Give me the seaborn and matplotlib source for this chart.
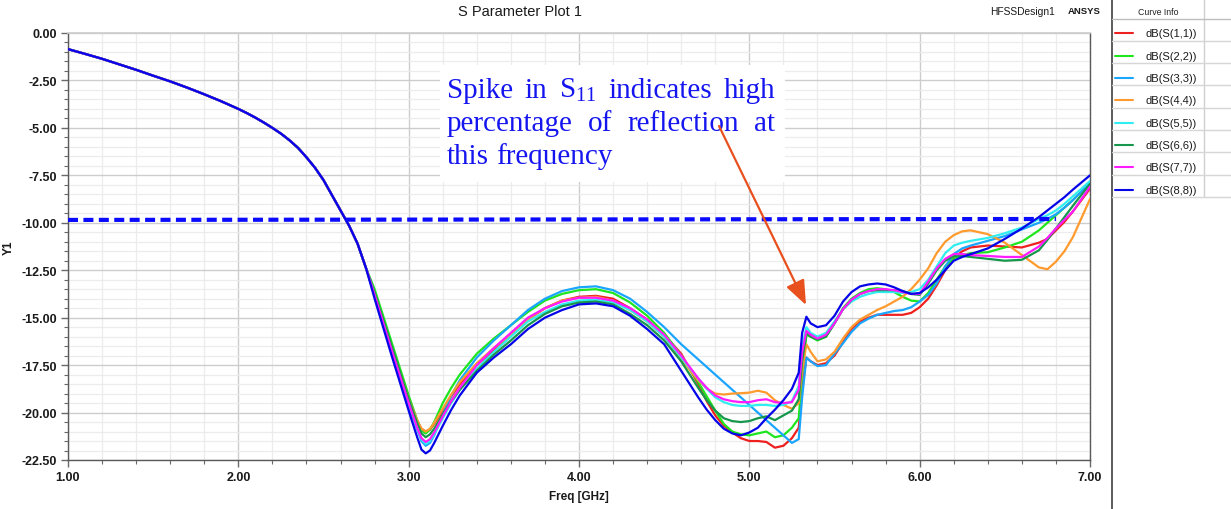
import matplotlib
matplotlib.use("Agg")
import matplotlib.pyplot as plt
from matplotlib.lines import Line2D
from matplotlib.patches import Rectangle, FancyArrowPatch
from matplotlib.ticker import MultipleLocator
import pandas as pd
import seaborn as sns

W, H = 1231, 510

# ---------------- data ----------------
curve_names = ["dB(S(1,1))", "dB(S(2,2))", "dB(S(3,3))", "dB(S(4,4))",
               "dB(S(5,5))", "dB(S(6,6))", "dB(S(7,7))", "dB(S(8,8))"]
curve_colors = ["#ee2020", "#1ee61e", "#1aa5ff", "#ff9a2e",
                "#30eef0", "#17974c", "#ff1aff", "#0505e8"]

# shared start of all curves (they overlap up to ~2.75 GHz)
head_freq = [1.0, 1.1, 1.2, 1.3, 1.4, 1.5, 1.6, 1.7, 1.8, 1.9, 2.0, 2.05, 2.1, 2.15,
             2.2, 2.25, 2.3, 2.35, 2.4, 2.45, 2.5, 2.55, 2.6, 2.65, 2.7, 2.75]
head_db = [-0.85, -1.1, -1.36, -1.65, -1.94, -2.25, -2.55, -2.88, -3.23, -3.6, -4.0, -4.22, -4.46, -4.72,
           -5.0, -5.3, -5.65, -6.05, -6.55, -7.1, -7.75, -8.55, -9.35, -10.15, -11.1, -12.4]

tail_freq = [2.8, 2.9, 3.0, 3.05, 3.075, 3.1, 3.125, 3.15, 3.2, 3.25, 3.3,
             3.4, 3.5, 3.6, 3.7, 3.8, 3.9, 4.0, 4.1, 4.2, 4.3, 4.4, 4.5, 4.6, 4.7,
             4.75, 4.8, 4.85, 4.9, 4.95, 5.0, 5.05, 5.1, 5.15, 5.2, 5.25, 5.29,
             5.31, 5.335, 5.36, 5.4, 5.45, 5.5, 5.55, 5.6, 5.65, 5.7, 5.75, 5.8, 5.85, 5.9, 5.95, 6.0,
             6.05, 6.1, 6.15, 6.2, 6.25, 6.3, 6.4, 6.5, 6.6, 6.7, 6.75, 6.8, 6.85, 6.9, 7.0]

s11 = [-13.8, -16.6, -19.3, -20.45, -20.85, -21.0, -20.9, -20.6, -19.9, -19.15, -18.5,
       -17.5, -16.7, -15.9, -15.1, -14.5, -14.1, -13.9, -13.85, -14.0, -14.5, -15.1, -15.9, -16.9, -18.5,
       -19.4, -20.15, -20.7, -21.05, -21.35, -21.5, -21.5, -21.55, -21.85, -21.75, -21.35, -20.8,
       -18.8, -17.1, -17.3, -17.5, -17.4, -17.0, -16.3, -15.6, -15.2, -15.0, -14.85, -14.85, -14.85, -14.85, -14.75, -14.45,
       -14.0, -13.3, -12.5, -11.85, -11.5, -11.3, -11.2, -11.25, -11.3, -11.05, -10.85, -10.4, -9.95, -9.4, -8.2]
s22 = [-13.5, -16.3, -19.1, -20.4, -20.95, -21.1, -20.9, -20.5, -19.5, -18.7, -18.0,
       -16.9, -16.1, -15.4, -14.7, -14.1, -13.75, -13.55, -13.5, -13.7, -14.2, -14.9, -15.8, -17.0, -18.4,
       -19.15, -19.9, -20.6, -21.0, -21.15, -21.2, -21.1, -21.0, -21.3, -21.2, -20.8, -20.3,
       -18.0, -15.9, -16.0, -16.2, -16.0, -15.3, -14.5, -14.0, -13.7, -13.5, -13.45, -13.5, -13.65, -13.9, -14.1, -14.15,
       -13.7, -13.0, -12.3, -11.9, -11.7, -11.6, -11.55, -11.3, -11.0, -10.4, -10.0, -9.6, -9.2, -8.8, -7.9]
s33 = [-13.8, -16.7, -19.6, -20.9, -21.5, -21.75, -21.6, -21.2, -20.1, -19.1, -18.3,
       -17.1, -16.2, -15.4, -14.6, -14.0, -13.6, -13.4, -13.35, -13.55, -14.0, -14.7, -15.5, -16.4, -17.2,
       -17.6, -18.0, -18.4, -18.8, -19.2, -19.6, -20.0, -20.4, -20.8, -21.2, -21.6, -21.4,
       -19.2, -17.1, -17.3, -17.55, -17.5, -16.9, -16.35, -15.75, -15.3, -15.05, -14.85, -14.75, -14.65, -14.6, -14.45, -14.15,
       -13.8, -13.2, -12.3, -11.65, -11.35, -11.2, -10.95, -10.7, -10.35, -10.0, -9.8, -9.55, -9.2, -8.8, -7.9]
s44 = [-13.8, -16.6, -19.3, -20.4, -20.85, -21.0, -20.85, -20.55, -19.8, -19.05, -18.4,
       -17.4, -16.6, -15.9, -15.1, -14.5, -14.1, -13.95, -13.9, -14.1, -14.6, -15.2, -16.0, -17.2, -18.3,
       -18.75, -19.0, -19.05, -19.0, -18.98, -18.95, -18.85, -18.95, -19.35, -19.6, -19.8, -19.5,
       -17.8, -16.4, -16.8, -17.3, -17.2, -16.8, -16.1, -15.5, -15.1, -14.85, -14.6, -14.4, -14.15, -13.9, -13.5, -13.0,
       -12.4, -11.6, -11.0, -10.65, -10.45, -10.4, -10.6, -11.05, -11.7, -12.35, -12.45, -12.05, -11.5, -10.75, -8.75]
s55 = [-13.8, -16.7, -19.5, -20.8, -21.4, -21.65, -21.5, -21.15, -20.3, -19.5, -18.8,
       -17.7, -16.8, -16.0, -15.2, -14.7, -14.3, -14.1, -14.05, -14.2, -14.6, -15.2, -16.0, -17.1, -18.2,
       -18.75, -19.2, -19.45, -19.6, -19.65, -19.65, -19.6, -19.6, -19.65, -19.6, -19.4, -18.6,
       -16.5, -15.5, -15.8, -16.0, -15.8, -15.2, -14.55, -14.15, -13.9, -13.75, -13.65, -13.65, -13.65, -13.7, -13.65, -13.5,
       -13.0, -12.3, -11.6, -11.2, -11.05, -10.95, -10.8, -10.55, -10.25, -9.8, -9.6, -9.35, -9.0, -8.6, -7.8]
s66 = [-13.7, -16.5, -19.3, -20.55, -21.1, -21.3, -21.15, -20.85, -20.1, -19.4, -18.8,
       -17.8, -16.95, -16.2, -15.4, -14.8, -14.4, -14.2, -14.15, -14.3, -14.8, -15.4, -16.2, -17.3, -18.7,
       -19.35, -19.9, -20.3, -20.45, -20.5, -20.45, -20.3, -20.2, -20.4, -20.15, -19.9, -19.3,
       -17.3, -15.8, -16.0, -16.15, -16.0, -15.3, -14.55, -14.05, -13.75, -13.6, -13.55, -13.55, -13.55, -13.6, -13.75, -13.8,
       -13.2, -12.5, -12.0, -11.75, -11.75, -11.8, -11.9, -12.0, -11.95, -11.45, -10.9, -10.3, -9.7, -9.1, -7.95]
s77 = [-13.8, -16.7, -19.5, -20.8, -21.35, -21.55, -21.4, -21.05, -20.2, -19.4, -18.7,
       -17.5, -16.6, -15.8, -15.0, -14.5, -14.15, -13.95, -13.95, -14.1, -14.5, -15.1, -15.9, -17.0, -18.2,
       -18.7, -19.1, -19.3, -19.4, -19.45, -19.45, -19.35, -19.3, -19.45, -19.5, -19.45, -18.8,
       -16.8, -15.7, -15.9, -16.1, -15.9, -15.3, -14.55, -14.05, -13.75, -13.6, -13.5, -13.5, -13.55, -13.65, -13.75, -13.75,
       -13.1, -12.4, -11.9, -11.65, -11.65, -11.7, -11.75, -11.8, -11.8, -11.25, -10.8, -10.3, -9.85, -9.4, -8.1]
s88 = [-14.0, -17.0, -19.9, -21.3, -21.95, -22.15, -22.0, -21.6, -20.7, -19.85, -19.1,
       -17.9, -17.1, -16.4, -15.6, -15.0, -14.6, -14.3, -14.25, -14.4, -14.9, -15.6, -16.4, -17.8, -19.2,
       -19.85, -20.4, -20.85, -21.1, -21.2, -21.05, -20.8, -20.3, -19.85, -19.35, -18.75, -17.9,
       -15.8, -14.95, -15.3, -15.5, -15.4, -14.9, -14.15, -13.65, -13.35, -13.25, -13.2, -13.25, -13.4, -13.6, -13.75, -13.7,
       -13.4, -13.0, -12.5, -12.0, -11.8, -11.65, -11.35, -10.85, -10.3, -9.7, -9.35, -9.0, -8.65, -8.25, -7.5]
tails = [s11, s22, s33, s44, s55, s66, s77, s88]

# -10 dB reference line
dash_freq = [1.0, 6.8]
dash_db = [-9.85, -9.8]

x_ticks = [1.0, 2.0, 3.0, 4.0, 5.0, 6.0, 7.0]
y_ticks = [0.0, -2.5, -5.0, -7.5, -10.0, -12.5, -15.0, -17.5, -20.0, -22.5]

ann_lines = ["Spike in S$_{11}$ indicates high", "percentage of reflection at", "this frequency"]

assert len(head_freq) == len(head_db)
for t in tails:
    assert len(t) == len(tail_freq), len(t)

# ---------------- build frame ----------------
rows = []
for name, tail in zip(curve_names, tails):
    for f, v in zip(head_freq + tail_freq, head_db + tail):
        rows.append((name, f, v))
df = pd.DataFrame(rows, columns=["curve", "freq", "db"])

sns.set_theme(style="white")
plt.rcParams["font.family"] = ["Liberation Sans", "DejaVu Sans"]
plt.rcParams["mathtext.fontset"] = "custom"
plt.rcParams["mathtext.rm"] = "Liberation Serif"
plt.rcParams["mathtext.it"] = "Liberation Serif:italic"
plt.rcParams["mathtext.bf"] = "Liberation Serif:bold"


def fx(px):
    return px / W


def fy(py):
    return 1 - py / H


fig = plt.figure(figsize=(W / 100, H / 100), dpi=100, facecolor="white")
ax = fig.add_axes([fx(68), fy(461), (1090 - 68) / W, (461 - 34) / H])
ax.set_facecolor("white")

sns.lineplot(data=df, x="freq", y="db", hue="curve", hue_order=curve_names,
             palette=dict(zip(curve_names, curve_colors)), estimator=None,
             sort=False, legend=False, linewidth=1.6, ax=ax, zorder=3)

ax.plot(dash_freq, dash_db, color="#0a0aff", lw=3.0, ls=(0, (2.4, 1.3)),
        dash_capstyle="butt", zorder=4)

ax.set_xlim(1, 7)
ax.set_ylim(-22.5, 0)
ax.set_xticks(x_ticks, [f"{v:.2f}" for v in x_ticks], fontweight="bold",
              fontsize=9, color="#1a1a1a")
ax.set_yticks(y_ticks, [f"{v:.2f}" for v in y_ticks], fontweight="bold",
              fontsize=9, color="#1a1a1a")
ax.xaxis.set_minor_locator(MultipleLocator(0.2))
ax.yaxis.set_minor_locator(MultipleLocator(0.5))
ax.set_axisbelow(True)
ax.grid(True, which="major", color="#cdcdcd", lw=1.0)
ax.grid(True, which="minor", color="#ececec", lw=0.9)
ax.tick_params(which="both", direction="out", bottom=True, left=True,
               top=False, right=False, color="#6a6a6a")
ax.tick_params(which="major", length=5, width=1, pad=3)
ax.tick_params(which="minor", length=3, width=0.8)
for s in ["left", "bottom", "right"]:
    ax.spines[s].set_color("#5a5a5a")
    ax.spines[s].set_linewidth(1.0)
ax.spines["top"].set_color("#cdcdcd")

ax.set_xlabel("Freq [GHz]", fontweight="bold", fontsize=8.5, color="#1a1a1a")
ax.xaxis.set_label_coords(0.5, -(491 - 461) / 427)
ax.set_ylabel("Y1", fontweight="bold", fontsize=8.5, color="#1a1a1a")
ax.yaxis.set_label_coords((15 - 68) / 1022, 0.5)

# titles
fig.text(fx(520), fy(12), "S Parameter Plot 1", ha="center", va="center",
         fontsize=10.5, color="#1a1a1a")
fig.text(fx(990), fy(12), "HFSSDesign1", ha="left", va="center",
         fontsize=7.4, color="#1a1a1a")
fig.text(fx(1068), fy(12), "ANSYS", ha="left", va="center",
         fontsize=6.8, fontweight="bold", color="#1a1a1a")

# legend panel (Curve Info table)
fig.add_artist(Line2D([fx(1111.5)] * 2, [0, 1], transform=fig.transFigure,
                      color="#404040", lw=1.2))
fig.add_artist(Line2D([fx(1204)] * 2, [fy(0), fy(197)], transform=fig.transFigure,
                      color="#cfcfcf", lw=1.0))
fig.add_artist(Line2D([fx(1111.5), 1], [fy(19.5)] * 2, transform=fig.transFigure,
                      color="#bdbdbd", lw=1.0))
fig.text(fx(1158), fy(12.5), "Curve Info", ha="center", va="center",
         fontsize=6.3, color="#222222")
for i, (name, col) in enumerate(zip(curve_names, curve_colors)):
    yc = 34.3 + 22.35 * i
    yl = 41.7 + 22.35 * i
    fig.add_artist(Line2D([fx(1111.5), 1], [fy(yl)] * 2, transform=fig.transFigure,
                          color="#d6d6d6", lw=1.0))
    fig.add_artist(Line2D([fx(1115), fx(1133)], [fy(yc)] * 2, transform=fig.transFigure,
                          color=col, lw=1.5))
    fig.text(fx(1145), fy(yc), name, ha="left", va="center", fontsize=8,
             color="#1a1a1a")

# annotation box + justified text
fig.add_artist(Rectangle((fx(440), fy(183)), (785 - 440) / W, (183 - 66) / H,
                         transform=fig.transFigure, facecolor="white",
                         edgecolor="none", zorder=2))

renderer = fig.canvas.get_renderer()
x0, x1 = 447, 775
baselines = [98, 131, 164]
justify_flags = [True, True, False]
for line, yb, just in zip(ann_lines, baselines, justify_flags):
    words = line.split(" ")
    objs = [fig.text(0, 0, w, fontsize=21, color="#1515f0", va="baseline",
                     ha="left", family=["Liberation Serif", "DejaVu Serif"], zorder=5)
            for w in words]
    widths = [t.get_window_extent(renderer).width for t in objs]
    if just and len(words) > 1:
        gap = (x1 - x0 - sum(widths)) / (len(words) - 1)
    else:
        gap = 7.0
    x = x0
    for t, w in zip(objs, widths):
        t.set_position((fx(x), fy(yb)))
        x += w + gap

arrow = FancyArrowPatch((fx(719), fy(127)), (fx(806), fy(306)),
                        transform=fig.transFigure,
                        arrowstyle="-|>,head_length=0.75,head_width=0.3",
                        mutation_scale=20, color="#e8501e", lw=1.6,
                        shrinkA=0, shrinkB=0, zorder=6)
fig.add_artist(arrow)

fig.savefig("out.png", dpi=100, facecolor="white")
